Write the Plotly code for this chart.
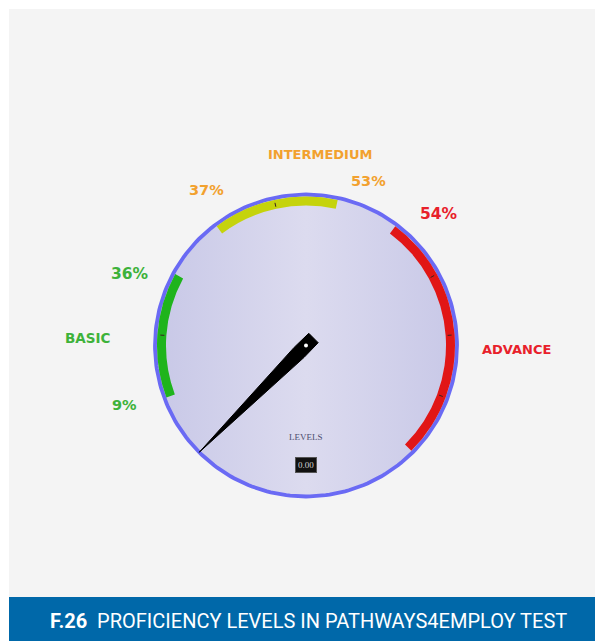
import numpy as np
import plotly.graph_objects as go

# Gauge scale and bands (gauge units)
gauge_min, gauge_max = 0, 55
tick_step = 5
band_starts = [5, 20, 35]
band_ends = [15, 30, 55]
band_colors = ["#1fb41c", "#c5d30c", "#e11616"]
needle_value = 0.0
value_text = "0.00"
gauge_title = "LEVELS"

# Level labels around the dial
label_texts = ["INTERMEDIUM", "37%", "53%", "54%", "36%", "BASIC", "9%", "ADVANCE"]
label_x = [320, 206, 368, 439, 130, 87, 124, 516]
label_y = [154, 190, 181, 214, 274, 338, 405, 349]
label_sizes = [13, 14.5, 14.5, 15.5, 15.5, 13.5, 14.5, 13]
label_colors = ["#f2a12e", "#f2a12e", "#f2a12e", "#e8202a", "#3db23a", "#3db23a", "#3db23a", "#e8202a"]

footer_num = "F.26"
footer_title = "PROFICIENCY LEVELS IN PATHWAYS4EMPLOY TEST"

W, H = 595, 641
CX, CY, R = 306, 345.5, 151          # dial centre / rim radius (px)
SWEEP = 270.0


def to_theta(v):
    return (v - gauge_min) / (gauge_max - gauge_min) * SWEEP


fig = go.Figure()

# dial face with horizontal gradient and blue rim
t = np.linspace(0, 2 * np.pi, 241)
fig.add_trace(go.Scatter(
    x=CX + R * np.cos(t), y=CY + R * np.sin(t),
    mode="lines", fill="toself",
    fillgradient=dict(type="horizontal", start=CX - R, stop=CX + R,
                      colorscale=[[0, "#c8c8e7"], [0.5, "#dcdbef"], [1, "#c8c8e7"]]),
    line=dict(color="#6a6af4", width=3.8),
    hoverinfo="skip", showlegend=False, xaxis="x", yaxis="y"))

# coloured bands
fig.add_trace(go.Barpolar(
    r=[9] * len(band_starts), base=[140] * len(band_starts),
    theta=[(to_theta(a) + to_theta(b)) / 2 for a, b in zip(band_starts, band_ends)],
    width=[to_theta(b) - to_theta(a) for a, b in zip(band_starts, band_ends)],
    marker=dict(color=band_colors, line=dict(width=0)),
    hoverinfo="skip", showlegend=False, subplot="polar"))

# tick marks on the bands
tr, tt = [], []
for v in np.arange(gauge_min, gauge_max + tick_step, tick_step):
    if any(a < v < b for a, b in zip(band_starts, band_ends)):
        tr += [142, 146, None]
        tt += [to_theta(v), to_theta(v), None]
fig.add_trace(go.Scatterpolar(
    r=tr, theta=tt, mode="lines", line=dict(color="#3a2020", width=1),
    hoverinfo="skip", showlegend=False, subplot="polar"))

# needle
tn = to_theta(needle_value)
fig.add_trace(go.Scatterpolar(
    r=[151, 12, 12.5, 12.5, 12, 151],
    theta=[tn, tn - 36, tn - 148, tn + 148, tn + 36, tn],
    mode="lines", fill="toself", fillcolor="#000000",
    line=dict(color="#000000", width=1),
    hoverinfo="skip", showlegend=False, subplot="polar"))
fig.add_trace(go.Scatterpolar(
    r=[0], theta=[0], mode="markers",
    marker=dict(color="#ffffff", size=4),
    hoverinfo="skip", showlegend=False, subplot="polar"))

annotations = []
for txt, x, y, s, c in zip(label_texts, label_x, label_y, label_sizes, label_colors):
    annotations.append(dict(x=x, y=y, xref="x", yref="y", text=f"<b>{txt}</b>",
                            showarrow=False, xanchor="center", yanchor="middle",
                            font=dict(family="DejaVu Sans", size=s, color=c)))

annotations.append(dict(x=CX, y=437, xref="x", yref="y", text=gauge_title,
                        showarrow=False, font=dict(family="Liberation Serif", size=9, color="#4d4d6e")))
annotations.append(dict(x=CX - 0.5, y=465, xref="x", yref="y", text=value_text,
                        showarrow=False, bgcolor="#111111", bordercolor="#555555",
                        borderwidth=1, borderpad=2,
                        font=dict(family="Liberation Serif", size=9, color="#cfcfcf")))
annotations.append(dict(x=308, y=621, xref="x", yref="y",
                        text=f"<b>{footer_num}</b>  {footer_title}",
                        showarrow=False, font=dict(family="Roboto", size=20, color="#ffffff")))

fig.update_layout(
    width=W, height=H, margin=dict(l=0, r=0, t=0, b=0),
    paper_bgcolor="#ffffff", plot_bgcolor="rgba(0,0,0,0)",
    xaxis=dict(range=[0, W], visible=False, domain=[0, 1], fixedrange=True),
    yaxis=dict(range=[H, 0], visible=False, domain=[0, 1], fixedrange=True),
    polar=dict(
        domain=dict(x=[(CX - 155) / W, (CX + 155) / W],
                    y=[(H - CY - 155) / H, (H - CY + 155) / H]),
        bgcolor="rgba(0,0,0,0)",
        radialaxis=dict(range=[0, 155], visible=False),
        angularaxis=dict(rotation=225, direction="clockwise", visible=False),
        bargap=0),
    shapes=[
        dict(type="rect", xref="x", yref="y", x0=9, x1=W, y0=9, y1=597,
             fillcolor="#f4f4f4", line=dict(width=0), layer="below"),
        dict(type="rect", xref="x", yref="y", x0=9, x1=W, y0=597, y1=H,
             fillcolor="#0068a9", line=dict(width=0), layer="below"),
    ],
    annotations=annotations,
    showlegend=False,
)

fig.write_html("out.html")
